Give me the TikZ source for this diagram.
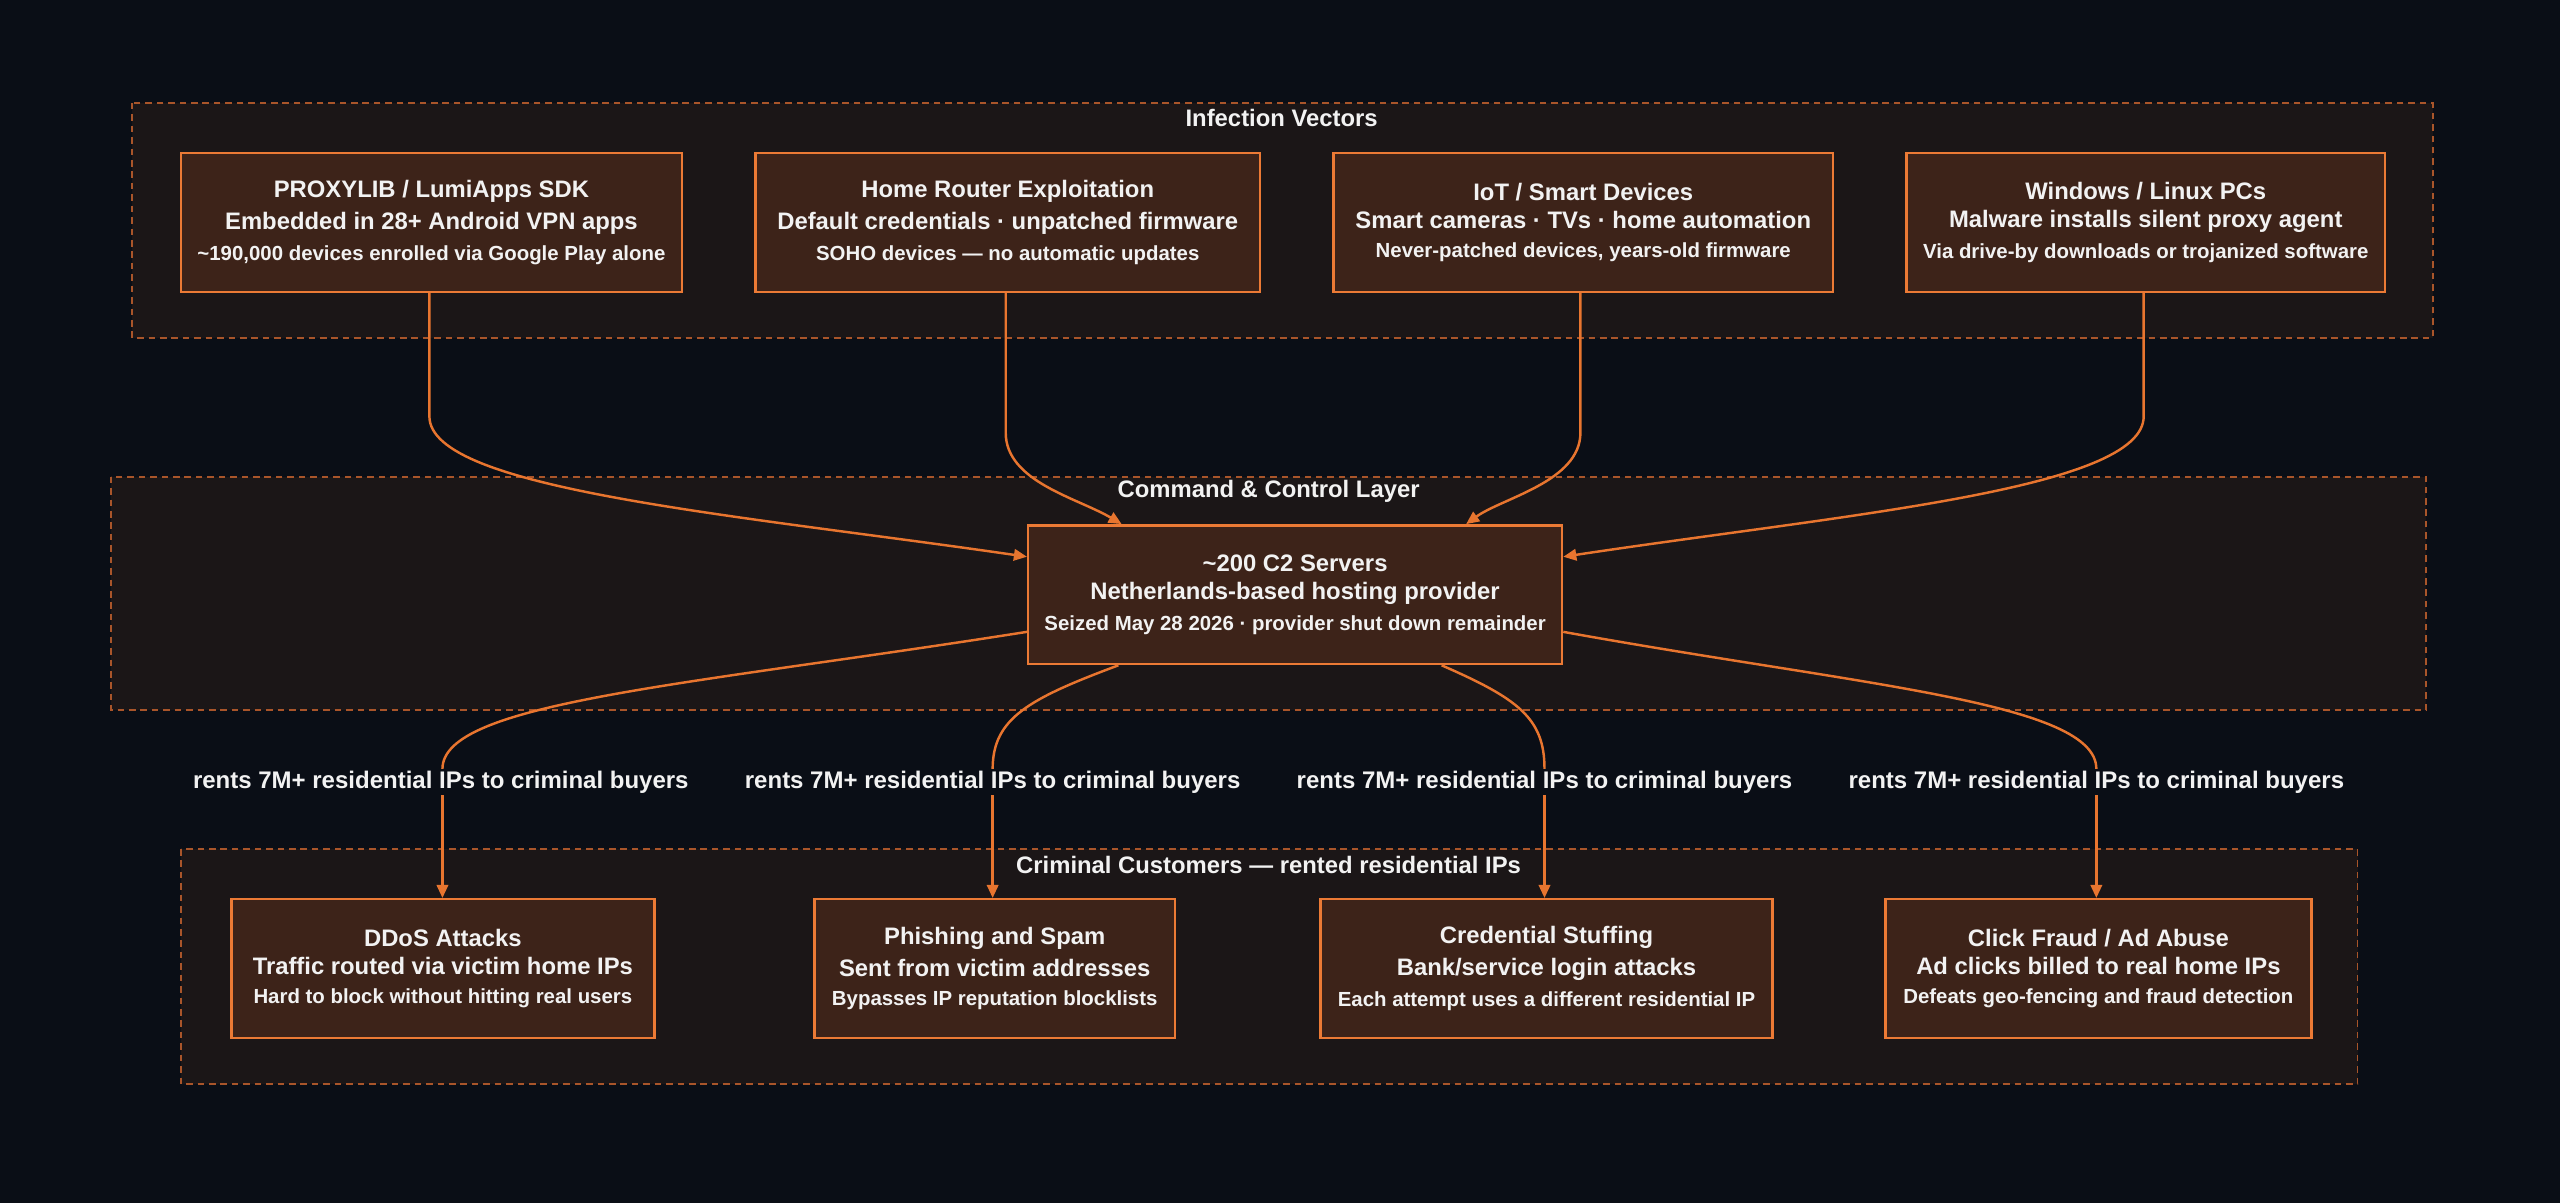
\documentclass[tikz,border=0pt]{standalone}
\usepackage{fontspec}
\setmainfont{Liberation Sans}
\usetikzlibrary{arrows.meta}
\definecolor{bg}{HTML}{0A0E16}
\definecolor{clf}{HTML}{1B1617}
\definecolor{cld}{HTML}{A9552A}
\definecolor{bxf}{HTML}{3D2319}
\definecolor{bxd}{HTML}{EC7A35}
\definecolor{txt}{HTML}{F2F2F2}
\definecolor{edg}{HTML}{E8752F}
\newcommand{\bgf}{\bfseries\fontsize{14.6}{19}\selectfont}
\newcommand{\smf}{\bfseries\fontsize{12.5}{21}\selectfont}
\begin{document}
\begin{tikzpicture}[x=1pt,y=-1pt,
 cl/.style={draw=cld,fill=clf,line width=1pt,dash pattern=on 4pt off 3pt},
 ctitle/.style={text=txt,font=\bfseries\fontsize{14.6}{16}\selectfont},
 box/.style={draw=bxd,fill=bxf,line width=1.5pt,text=txt,align=center},
 lbl/.style={text=txt,font=\bfseries\fontsize{14.7}{16}\selectfont,inner sep=1pt},
 ed/.style={draw=edg,line width=1.5pt},
 ar/.style={ed,-{Triangle[length=8pt,width=7pt]}}]
\newcommand{\bx}[7]{\node[box,minimum width=#4,minimum height=85,anchor=north west] (#1) at (#2,#3) {\bgf #5\\[5pt]\bgf #6\\[6pt]\smf #7};}
\fill[bg] (0,0) rectangle (1568,737);
\useasboundingbox (0,0) rectangle (1568,737);
\draw[cl] (81,63) rectangle (1490,207);
\node[ctitle] (t1) at (785,72) {Infection Vectors};
\draw[cl] (68,292) rectangle (1486,435);
\node[ctitle] (t2) at (777,301) {Command \& Control Layer};
\draw[cl] (111,520) rectangle (1444,664);
\bx{v1}{110}{93}{307}{PROXYLIB / LumiApps SDK}{Embedded in 28+ Android VPN apps}{\textasciitilde190,000 devices enrolled via Google Play alone}
\bx{v2}{462}{93}{309}{Home Router Exploitation}{Default credentials · unpatched firmware}{SOHO devices — no automatic updates}
\bx{v3}{816}{93}{306}{IoT / Smart Devices}{Smart cameras · TVs · home automation}{Never-patched devices, years-old firmware}
\bx{v4}{1167}{93}{293}{Windows / Linux PCs}{Malware installs silent proxy agent}{Via drive-by downloads or trojanized software}
\bx{c2}{629}{321}{327}{\textasciitilde200 C2 Servers}{Netherlands-based hosting provider}{Seized May 28 2026 · provider shut down remainder}
\bx{b1}{141}{550}{259}{DDoS Attacks}{Traffic routed via victim home IPs}{Hard to block without hitting real users}
\bx{b2}{498}{550}{221}{Phishing and Spam}{Sent from victim addresses}{Bypasses IP reputation blocklists}
\bx{b3}{808}{550}{277}{Credential Stuffing}{Bank/service login attacks}{Each attempt uses a different residential IP}
\bx{b4}{1154}{550}{261}{Click Fraud / Ad Abuse}{Ad clicks billed to real home IPs}{Defeats geo-fencing and fraud detection}
\node[ctitle,fill=clf,inner sep=1pt] at (777,530) {Criminal Customers — rented residential IPs};
% top edges
\draw[ar] (v1.south -| 263,0) -- (263,255) .. controls (263,300) and (450,315) .. (c2.west |- 0,341);
\draw[ar] (v2.south -| 616,0) -- (616,265) .. controls (616,295) and (660,305) .. (c2.north -| 687,0);
\draw[ar] (v3.south -| 968,0) -- (968,265) .. controls (968,295) and (920,305) .. (c2.north -| 898,0);
\draw[ar] (v4.south -| 1313,0) -- (1313,255) .. controls (1313,300) and (1130,315) .. (c2.east |- 0,341);
% labels
\node[lbl] (l1) at (270,479) {rents 7M+ residential IPs to criminal buyers};
\node[lbl] (l2) at (608,479) {rents 7M+ residential IPs to criminal buyers};
\node[lbl] (l3) at (946,479) {rents 7M+ residential IPs to criminal buyers};
\node[lbl] (l4) at (1284,479) {rents 7M+ residential IPs to criminal buyers};
\draw[ed] (c2.west |- 0,387) .. controls (420,420) and (271,430) .. (l1.north -| 271,0);
\draw[ed] (c2.south -| 685,0) .. controls (630,428) and (608,440) .. (l2.north -| 608,0);
\draw[ed] (c2.south -| 883,0) .. controls (930,428) and (946,440) .. (l3.north -| 946,0);
\draw[ed] (c2.east |- 0,387) .. controls (1140,420) and (1284,430) .. (l4.north -| 1284,0);
\draw[ar] (l1.south -| 271,0) -- (b1.north -| 271,0);
\draw[ar] (l2.south -| 608,0) -- (b2.north -| 608,0);
\draw[ar] (l3.south -| 946,0) -- (b3.north -| 946,0);
\draw[ar] (l4.south -| 1284,0) -- (b4.north -| 1284,0);
\end{tikzpicture}
\end{document}
